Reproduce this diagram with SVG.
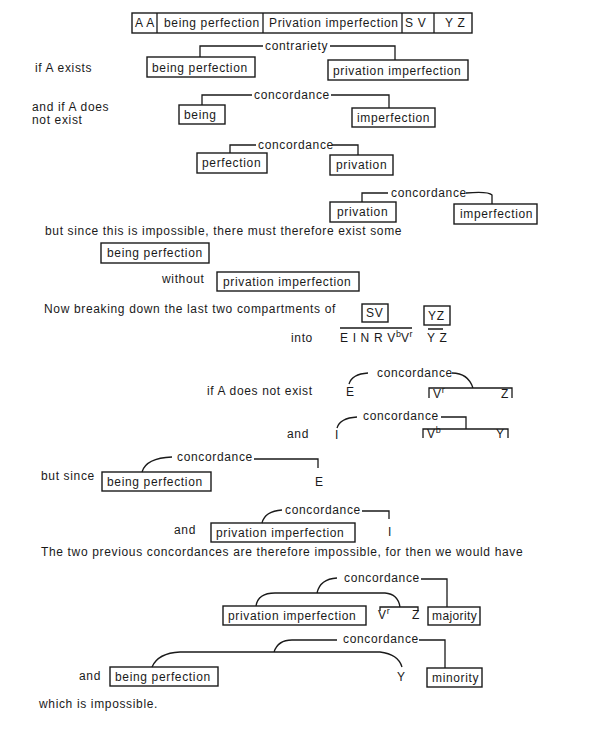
<svg xmlns="http://www.w3.org/2000/svg" width="595" height="747" viewBox="0 0 595 747">
<style>
text{font-family:"Liberation Sans",Arial,sans-serif;font-size:12px;letter-spacing:0.65px;fill:#1a1a1a}
.b{fill:#fff;stroke:#1a1a1a;stroke-width:1.4}
.c{fill:none;stroke:#1a1a1a;stroke-width:1.3}
.s{font-size:9px;letter-spacing:0}
</style>
<rect width="595" height="747" fill="#fff"/>
<g id="header">
<rect class="b" x="132" y="13" width="340" height="20"/>
<path class="c" d="M157,13V33M263,13V33M402,13V33M434,13V33"/>
<text x="135" y="27">A A</text>
<text x="164" y="27">being perfection</text>
<text x="269" y="27">Privation imperfection</text>
<text x="405" y="27">S V</text>
<text x="445" y="27">Y Z</text>
</g>
<g id="labels">
<text x="35" y="72">if A exists</text>
<text x="32" y="111">and if A does</text>
<text x="32" y="124">not exist</text>
<text x="45" y="235">but since this is impossible, there must therefore exist some</text>
<text x="162" y="283">without</text>
<text x="44" y="313">Now breaking down the last two compartments of</text>
<text x="291" y="342">into</text>
<text x="340" y="342">E I N R V<tspan class="s" dy="-5">b</tspan><tspan dy="5">V</tspan><tspan class="s" dy="-5">r</tspan></text>
<text x="427" y="342">Y Z</text>
<text x="207" y="395">if A does not exist</text>
<text x="346" y="396">E</text>
<text x="433" y="398">V<tspan class="s" dy="-5">r</tspan></text>
<text x="501" y="398">Z</text>
<text x="287" y="438">and</text>
<text x="335" y="439">I</text>
<text x="427" y="438">V<tspan class="s" dy="-5">b</tspan></text>
<text x="496" y="438">Y</text>
<text x="41" y="480">but since</text>
<text x="315" y="486">E</text>
<text x="174" y="534">and</text>
<text x="388" y="536">I</text>
<text x="41" y="556">The two previous concordances are therefore impossible, for then we would have</text>
<text x="378" y="619">V<tspan class="s" dy="-5">r</tspan></text>
<text x="412" y="619">Z</text>
<text x="397" y="681">Y</text>
<text x="79" y="680">and</text>
<text x="39" y="708">which is impossible.</text>
</g>
<g id="n1"><rect class="b" x="147" y="57" width="108" height="20"/><text x="152" y="72">being perfection</text></g>
<g id="n2"><rect class="b" x="328" y="60" width="140" height="20"/><text x="333" y="75">privation imperfection</text></g>
<g id="n3"><rect class="b" x="179" y="105" width="46" height="19"/><text x="184" y="119">being</text></g>
<g id="n4"><rect class="b" x="352" y="108" width="83" height="19"/><text x="357" y="122">imperfection</text></g>
<g id="n5"><rect class="b" x="197" y="153" width="70" height="20"/><text x="202" y="167">perfection</text></g>
<g id="n6"><rect class="b" x="330" y="155" width="63" height="20"/><text x="336" y="169">privation</text></g>
<g id="n7"><rect class="b" x="330" y="202" width="66" height="20"/><text x="337" y="216">privation</text></g>
<g id="n8"><rect class="b" x="454" y="204" width="83" height="20"/><text x="460" y="218">imperfection</text></g>
<g id="n9"><rect class="b" x="101" y="243" width="108" height="20"/><text x="107" y="257">being perfection</text></g>
<g id="n10"><rect class="b" x="217" y="272" width="142" height="19"/><text x="223" y="286">privation imperfection</text></g>
<g id="n11"><rect class="b" x="362" y="304" width="26" height="18"/><text x="366" y="317">SV</text></g>
<g id="n12"><rect class="b" x="424" y="306" width="26" height="19"/><text x="428" y="320">YZ</text></g>
<g id="n13"><rect class="b" x="102" y="472" width="109" height="19"/><text x="107" y="486">being perfection</text></g>
<g id="n14"><rect class="b" x="211" y="523" width="144" height="19"/><text x="216" y="537">privation imperfection</text></g>
<g id="n15"><rect class="b" x="223" y="606" width="143" height="19"/><text x="228" y="620">privation imperfection</text></g>
<g id="n16"><rect class="b" x="428" y="607" width="52" height="18"/><text x="432" y="620" style="letter-spacing:0.4px">majority</text></g>
<g id="n17"><rect class="b" x="427" y="668" width="55" height="19"/><text x="432" y="682">minority</text></g>
<g id="n18"><rect class="b" x="110" y="667" width="108" height="19"/><text x="115" y="681">being perfection</text></g>
<g id="connectors">
<path class="c" d="M200,57V46H263M330,46H395V60"/>
<text x="265" y="50">contrariety</text>
<path class="c" d="M202,105V95H252M331,95H389V108"/>
<text x="254" y="99">concordance</text>
<path class="c" d="M230,153V145H256M332,145H358V155"/>
<text x="258" y="149">concordance</text>
<path class="c" d="M362,202V193H388M466,193Q488,191 492,195V204"/>
<text x="391" y="197">concordance</text>
<path class="c" d="M340,328H412M428,329H443"/>
<path class="c" d="M349,384Q352,374 368,373M452,373Q468,373 473,388M429,398V388H512V398"/>
<text x="377" y="377">concordance</text>
<path class="c" d="M337,428Q340,418 357,417M441,417H466V429M423,438V429H508V438"/>
<text x="363" y="420">concordance</text>
<path class="c" d="M142,472Q146,458 172,457M254,459H318V468"/>
<text x="177" y="461">concordance</text>
<path class="c" d="M262,523Q265,511 282,510M362,511H389V519"/>
<text x="285" y="514">concordance</text>
<path class="c" d="M317,593Q320,579 337,578M256,606Q258,593 275,593H385Q398,594 400,607M380,611V607H418V611M421,579H447V607"/>
<text x="344" y="582">concordance</text>
<path class="c" d="M274,652Q278,640 292,640H337M152,667Q158,653 180,652H380Q398,654 402,667M419,640H445V668"/>
<text x="343" y="643">concordance</text>
</g>
</svg>
